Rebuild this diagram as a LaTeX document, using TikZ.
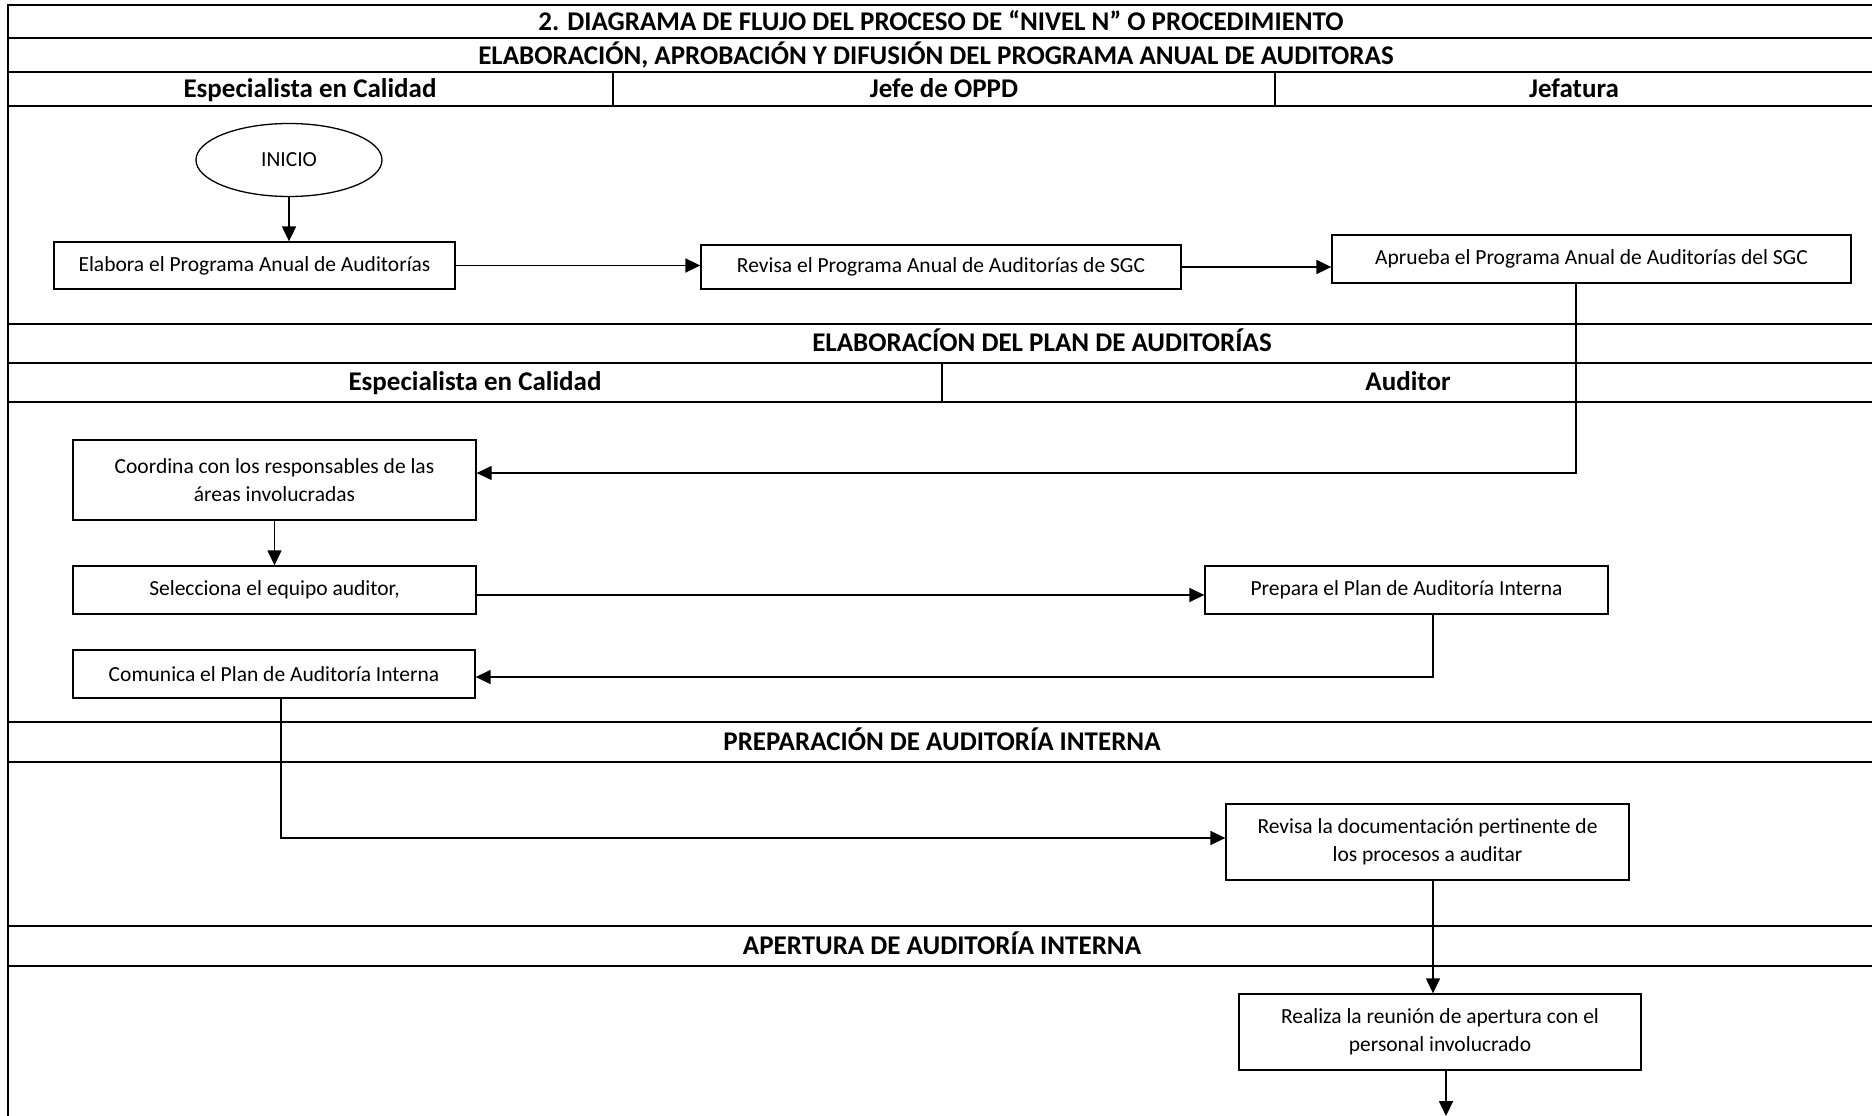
\documentclass[tikz,border=0pt]{standalone}
\usepackage{fontspec}
\setmainfont{Carlito}
\usetikzlibrary{arrows.meta,shapes.geometric,calc}
\begin{document}
\begin{tikzpicture}[x=1pt,y=-1pt,
  frame/.style={line width=2.5pt},
  divider/.style={line width=1.6pt},
  hdr/.style={font=\fontsize{27}{31}\selectfont\bfseries, inner sep=0pt, anchor=center, text height=22pt, text depth=5pt},
  box/.style={draw, line width=1.3pt, rectangle, align=center, font=\fontsize{21.5}{28}\selectfont, inner sep=0pt},
  conn/.style={line width=1.8pt, -{Triangle[length=15pt,width=14pt]}},
  plain/.style={line width=1.4pt}
]
\useasboundingbox (0,0) rectangle (1872,1116);
\clip (0,0) rectangle (1872,1116);
\fill[white] (0,0) rectangle (1872,1116);

% table frame
\draw[frame] (8,1140) -- (8,5) -- (1876,5) -- (1876,1140);
\foreach \yy in {38,72,106,324,363,402,722,762,926,966}
  \draw[frame] (8,\yy) -- (1876,\yy);
\draw[divider] (613,72) -- (613,106);
\draw[divider] (1275,72) -- (1275,106);
\draw[divider] (942,363) -- (942,402);

% headings
\node[hdr] (t1) at (941,21.8) {2. DIAGRAMA DE FLUJO DEL PROCESO DE “NIVEL N” O PROCEDIMIENTO};
\node[hdr] (t2) at (936,56) {ELABORACIÓN, APROBACIÓN Y DIFUSIÓN DEL PROGRAMA ANUAL DE AUDITORAS};
\node[hdr] (h1) at (310,89) {Especialista en Calidad};
\node[hdr] (h2) at (944,89) {Jefe de OPPD};
\node[hdr] (h3) at (1574,89) {Jefatura};
\node[hdr] (t3) at (1042,343) {ELABORACÍON DEL PLAN DE AUDITORÍAS};
\node[hdr] (h4) at (475,382) {Especialista en Calidad};
\node[hdr] (h5) at (1408,382) {Auditor};
\node[hdr] (t4) at (942,742) {PREPARACIÓN DE AUDITORÍA INTERNA};
\node[hdr] (t5) at (942,946) {APERTURA DE AUDITORÍA INTERNA};

% process nodes
\node[draw, line width=1.3pt, ellipse, minimum width=186, minimum height=73, inner sep=0pt,
      font=\fontsize{21.5}{28}\selectfont] (inicio) at (289,160) {INICIO};
\node[box, minimum width=401, minimum height=47] (elabora) at (254.5,265.5) {Elabora el Programa Anual de Auditorías};
\node[box, minimum width=480, minimum height=44] (revisa) at (941,267) {Revisa el Programa Anual de Auditorías de SGC};
\node[box, minimum width=519, minimum height=48] (aprueba) at (1591.5,259) {Aprueba el Programa Anual de Auditorías del SGC};
\node[box, minimum width=403, minimum height=80] (coordina) at (274.5,480) {Coordina con los responsables de las\\áreas involucradas};
\node[box, minimum width=403, minimum height=48] (selecciona) at (274.5,590) {Selecciona el equipo auditor,};
\node[box, minimum width=403, minimum height=48] (prepara) at (1406.5,590) {Prepara el Plan de Auditoría Interna};
\node[box, minimum width=402, minimum height=48] (comunica) at (274,674) {Comunica el Plan de Auditoría Interna};
\node[box, minimum width=403, minimum height=76] (revisadoc) at (1427.5,842) {Revisa la documentación pertinente de\\los procesos a auditar};
\node[box, minimum width=402, minimum height=76] (realiza) at (1440,1032) {Realiza la reunión de apertura con el\\personal involucrado};

% bend points
\coordinate (c1) at (1576,473);
\coordinate (c2) at (1433,677);
\coordinate (c3) at (281,838);
\coordinate (c4) at (1433,900);
\coordinate (c5) at (1446,1116);
\coordinate (c6) at (476,595);

% connectors
\draw[conn] (inicio.south) -- (inicio.south |- elabora.north);
\draw[conn] (elabora.east) -- (elabora.east -| revisa.west);
\draw[conn] (revisa.east) -- (revisa.east -| aprueba.west);
\draw[conn, line width=1.3pt] (aprueba.south -| c1) -- (c1) -- (c1 -| coordina.east);
\draw[conn, line width=1.4pt] (coordina.south) -- (selecciona.north);
\draw[conn, line width=1.4pt] (c6) -- (c6 -| prepara.west);
\draw[conn, line width=1.4pt] (prepara.south -| c2) -- (c2) -- (c2 -| comunica.east);
\draw[conn, line width=1.4pt] (comunica.south -| c3) -- (c3) -- (c3 -| revisadoc.west);
\draw[conn, line width=1.3pt] (revisadoc.south -| c4) -- (c4 |- realiza.north);
\draw[conn] (realiza.south -| c5) -- (c5);
\end{tikzpicture}
\end{document}
